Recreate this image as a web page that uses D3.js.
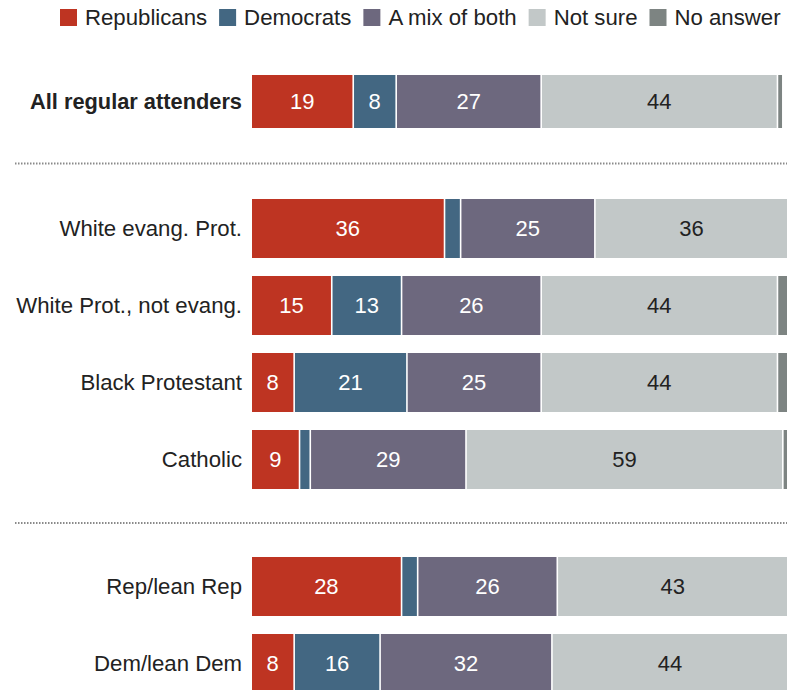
<!DOCTYPE html>
<html>
<head>
<meta charset="utf-8">
<script src="https://cdn.jsdelivr.net/npm/d3@7"></script>
<style>
  html, body { margin: 0; padding: 0; background: #fff; }
  svg { display: block; font-family: "Liberation Sans", Arial, sans-serif; }
</style>
</head>
<body>
<svg id="chart" width="787" height="690"></svg>
<script>
// Survey rows: who congregants think their clergy favor
const categories = ["All regular attenders", "White evang. Prot.", "White Prot., not evang.",
  "Black Protestant", "Catholic", "Rep/lean Rep", "Dem/lean Dem"];
const groupOf = [0, 1, 1, 1, 1, 2, 2];

const republicans = [19, 36, 15, 8, 9, 28, 8];
const democrats   = [8, 3, 13, 21, 2, 3, 16];
const mixOfBoth   = [27, 25, 26, 25, 29, 26, 32];
const notSure     = [44, 36, 44, 44, 59, 43, 44];
const noAnswer    = [1, 0, 2, 2, 1, 0, 0];

const seriesNames = ["Republicans", "Democrats", "A mix of both", "Not sure", "No answer"];
const seriesColors = ["#be3422", "#436782", "#6d687e", "#c2c8c8", "#7d8482"];
const labelColors = ["#fff", "#fff", "#fff", "#222", "#222"];

const seriesValues = [republicans, democrats, mixOfBoth, notSure, noAnswer];
const rows = categories.map((c, i) => {
  const r = { category: c, group: groupOf[i], index: i };
  seriesNames.forEach((s, k) => r[s] = seriesValues[k][i]);
  return r;
});

const svg = d3.select("#chart");

// Horizontal scale: 0–100 percent across the bar area
const x = d3.scaleLinear().domain([0, 100]).range([252, 789]);
const gap = 1.6;

// Vertical placement: fixed row step plus extra space at each group break
const rowStep = 77, groupGap = 50, firstCenter = 101.5;
const yCenter = r => firstCenter + r.index * rowStep + r.group * groupGap;
const barH = r => r.index === 0 ? 53 : 59;

const stack = d3.stack().keys(seriesNames)(rows);

// Dotted dividers between groups
const breaks = [[0, 1], [4, 5]];
breaks.forEach(([a, b]) => {
  const ra = rows[a], rb = rows[b];
  const yy = ((yCenter(ra) + barH(ra) / 2) + (yCenter(rb) - barH(rb) / 2)) / 2;
  svg.append("line")
    .attr("x1", 15).attr("x2", 787)
    .attr("y1", yy).attr("y2", yy)
    .attr("stroke", "#8a8a8a")
    .attr("stroke-width", 2)
    .attr("stroke-dasharray", "1.5,1.5");
});

// Stacked segments
const layers = svg.append("g").selectAll("g")
  .data(stack)
  .join("g")
  .attr("fill", (d, k) => seriesColors[k]);

layers.selectAll("rect")
  .data(d => d.map(p => ({ p, row: p.data })))
  .join("rect")
  .attr("x", d => x(d.p[0]))
  .attr("width", d => Math.max(0, x(d.p[1]) - x(d.p[0]) - gap))
  .attr("y", d => yCenter(d.row) - barH(d.row) / 2)
  .attr("height", d => barH(d.row));

// Value labels inside segments that are wide enough
stack.forEach((layer, k) => {
  if (k === 4) return;
  svg.append("g").selectAll("text")
    .data(layer.filter(p => p[1] - p[0] >= 5))
    .join("text")
    .attr("x", p => (x(p[0]) + x(p[1]) - gap) / 2)
    .attr("y", p => yCenter(p.data))
    .attr("dy", "0.36em")
    .attr("text-anchor", "middle")
    .attr("font-size", 22)
    .attr("fill", labelColors[k])
    .text(p => p[1] - p[0]);
});

// Category labels
svg.append("g").selectAll("text")
  .data(rows)
  .join("text")
  .attr("x", 242)
  .attr("y", r => yCenter(r))
  .attr("dy", "0.36em")
  .attr("text-anchor", "end")
  .attr("font-size", r => r.index === 0 ? 21.8 : 22.2)
  .attr("font-weight", r => r.index === 0 ? "bold" : "normal")
  .attr("fill", "#222")
  .text(r => r.category);

// Legend across the top
const legend = svg.append("g");
let lx = 60;
seriesNames.forEach((name, k) => {
  legend.append("rect")
    .attr("x", lx).attr("y", 9)
    .attr("width", 17).attr("height", 17)
    .attr("fill", seriesColors[k]);
  const t = legend.append("text")
    .attr("x", lx + 25).attr("y", 17.5)
    .attr("dy", "0.36em")
    .attr("font-size", 22.2)
    .attr("fill", "#222")
    .text(name);
  lx += 25 + t.node().getComputedTextLength() + 12;
});
</script>
</body>
</html>
